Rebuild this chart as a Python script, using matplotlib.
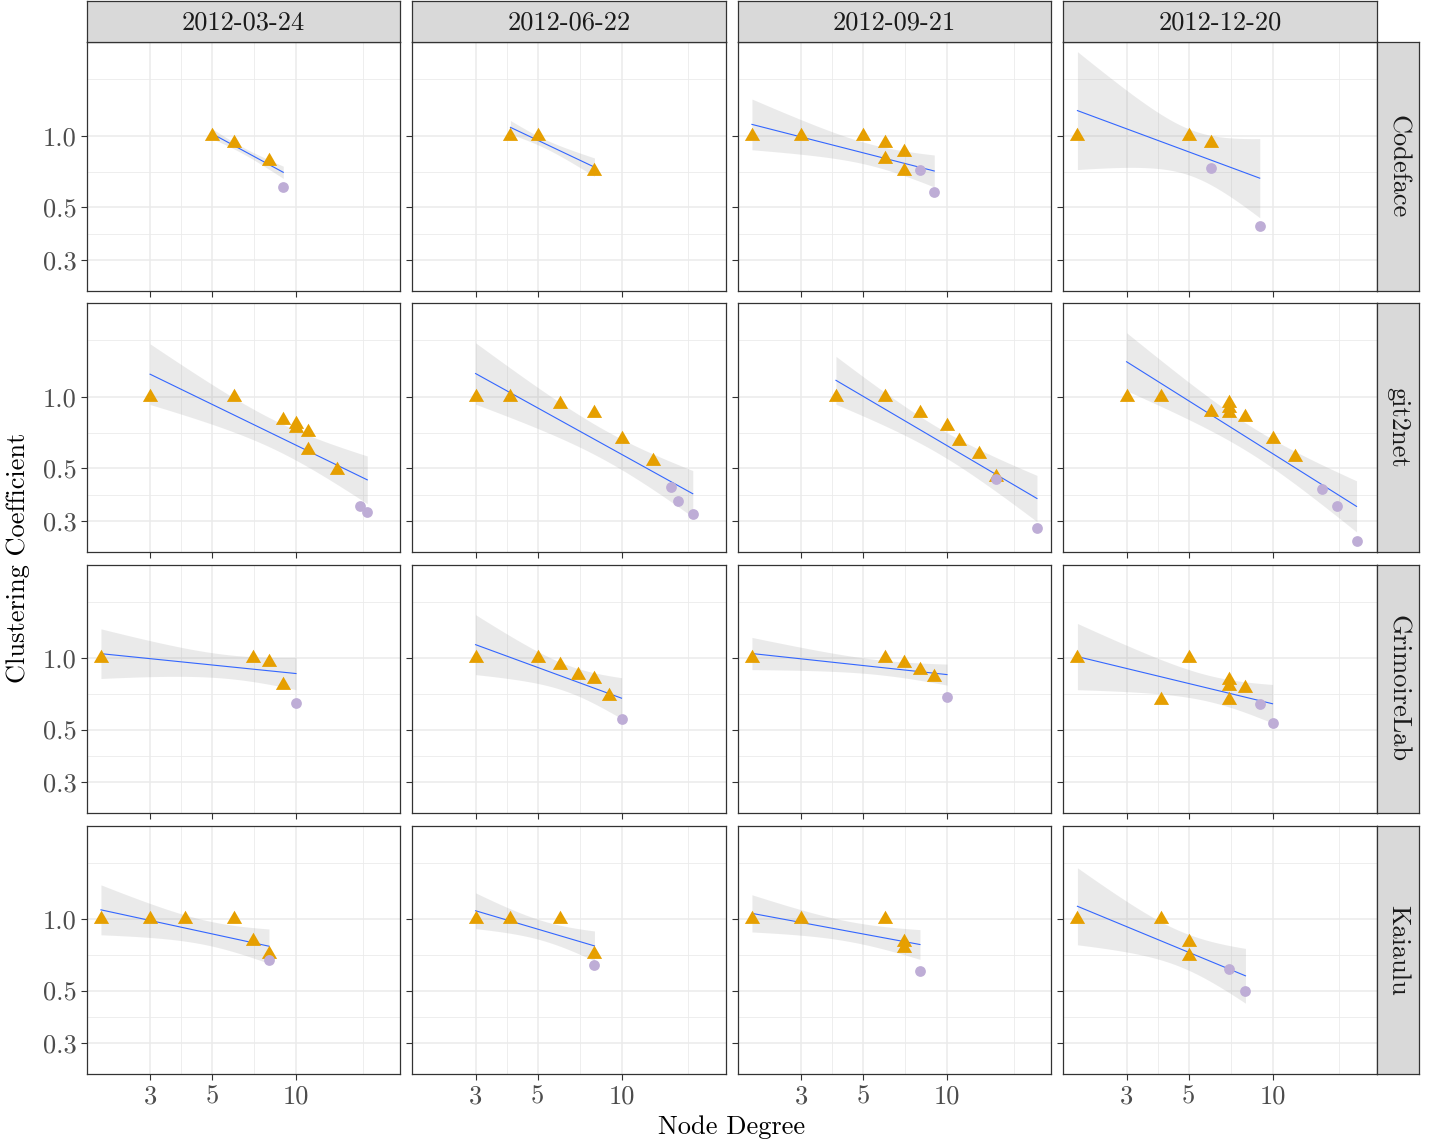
import numpy as np
import matplotlib.pyplot as plt

plt.rcParams['font.family'] = 'cmr10'
plt.rcParams['axes.formatter.use_mathtext'] = True

dates = ["2012-03-24", "2012-06-22", "2012-09-21", "2012-12-20"]
projects = ["Codeface", "git2net", "GrimoireLab", "Kaiaulu"]

# one inner list per date; kind: t = triangle, c = circle; n = nodes sharing the value
codeface_deg = [[5, 6, 8, 9],
                [4, 5, 8],
                [2, 3, 5, 6, 7, 6, 7, 8, 9],
                [2, 5, 6, 6, 9]]
codeface_cc = [[1.0, 0.93, 0.785, 0.61],
               [1.0, 1.0, 0.71],
               [1.0, 1.0, 1.0, 0.93, 0.857, 0.80, 0.71, 0.715, 0.58],
               [1.0, 1.0, 0.93, 0.734, 0.419]]
codeface_kind = ["tttc", "ttt", "tttttttcc", "tttcc"]
codeface_n = [[4, 4, 4, 1],
              [2, 6, 2],
              [1, 1, 1, 1, 1, 1, 1, 1, 1],
              [1, 3, 2, 1, 1]]

git2net_deg = [[3, 6, 9, 10, 10, 11, 11, 14, 17, 18],
               [3, 4, 6, 8, 10, 13, 15, 16, 18],
               [4, 6, 8, 10, 11, 13, 15, 15, 21],
               [3, 4, 6, 7, 7, 7, 8, 10, 12, 15, 17, 20]]
git2net_cc = [[1.0, 1.0, 0.80, 0.77, 0.74, 0.71, 0.60, 0.49, 0.347, 0.327],
              [1.0, 1.0, 0.934, 0.853, 0.665, 0.539, 0.418, 0.365, 0.321],
              [1.0, 1.0, 0.853, 0.755, 0.652, 0.575, 0.461, 0.45, 0.281],
              [1.0, 1.0, 0.862, 0.94, 0.895, 0.853, 0.82, 0.663, 0.56, 0.409, 0.346, 0.248]]
git2net_kind = ["ttttttttcc", "ttttttccc", "tttttttcc", "tttttttttccc"]
git2net_n = [[2, 2, 1, 1, 1, 1, 1, 1, 1, 1],
             [1] * 9,
             [2, 1, 1, 1, 1, 1, 1, 1, 1],
             [1] * 12]

grimoire_deg = [[2, 7, 8, 9, 10],
                [3, 5, 6, 7, 8, 9, 10],
                [2, 6, 7, 8, 9, 10],
                [2, 4, 5, 7, 7, 7, 8, 9, 10]]
grimoire_cc = [[1.0, 1.0, 0.965, 0.774, 0.646],
               [1.0, 1.0, 0.934, 0.853, 0.818, 0.69, 0.556],
               [1.0, 1.0, 0.95, 0.89, 0.83, 0.687],
               [1.0, 0.665, 1.0, 0.805, 0.76, 0.664, 0.75, 0.64, 0.533]]
grimoire_kind = ["ttttc", "ttttttc", "tttttc", "tttttttcc"]
grimoire_n = [[2, 3, 2, 1, 1],
              [1] * 7,
              [2, 2, 2, 2, 1, 1],
              [1] * 9]

kaiaulu_deg = [[2, 3, 4, 6, 7, 8, 8],
               [3, 4, 6, 8, 8],
               [2, 3, 6, 7, 7, 8],
               [2, 4, 5, 5, 7, 8]]
kaiaulu_cc = [[1.0, 1.0, 1.0, 1.0, 0.807, 0.712, 0.676],
              [1.0, 1.0, 1.0, 0.712, 0.641],
              [1.0, 1.0, 1.0, 0.805, 0.76, 0.607],
              [1.0, 1.0, 0.80, 0.698, 0.617, 0.499]]
kaiaulu_kind = ["ttttttc", "ttttc", "tttttc", "ttttcc"]
kaiaulu_n = [[1] * 7,
             [2, 2, 3, 2, 1],
             [2, 2, 2, 2, 1, 1],
             [1] * 6]

all_deg = [codeface_deg, git2net_deg, grimoire_deg, kaiaulu_deg]
all_cc = [codeface_cc, git2net_cc, grimoire_cc, kaiaulu_cc]
all_kind = [codeface_kind, git2net_kind, grimoire_kind, kaiaulu_kind]
all_n = [codeface_n, git2net_n, grimoire_n, kaiaulu_n]

T_TABLE = {1: 12.706, 2: 4.303, 3: 3.182, 4: 2.776, 5: 2.571, 6: 2.447, 7: 2.365,
           8: 2.306, 9: 2.262, 10: 2.228, 11: 2.201, 12: 2.179, 13: 2.160, 14: 2.145,
           15: 2.131, 16: 2.120, 17: 2.110, 18: 2.101, 19: 2.093, 20: 2.086,
           25: 2.060, 30: 2.042, 40: 2.021, 60: 2.000, 120: 1.980}


def t975(df):
    df = int(round(df))
    if df in T_TABLE:
        return T_TABLE[df]
    keys = sorted(T_TABLE)
    if df > keys[-1]:
        return 1.96
    lo = max(k for k in keys if k < df)
    hi = min(k for k in keys if k > df)
    w = (1 / df - 1 / lo) / (1 / hi - 1 / lo)
    return T_TABLE[lo] + w * (T_TABLE[hi] - T_TABLE[lo])


W, H = 1437, 1142
fig = plt.figure(figsize=(W / 100, H / 100), dpi=100)

col_x0 = 86.7
col_w = 313.5
col_step = 325.5
row_y0 = 42.3
row_h = 248.7
row_step = 261.1

tri = [(0, 1), (-0.866, -0.5), (0.866, -0.5), (0, 1)]

xlim = (10 ** 0.2500, 10 ** 1.3733)
ylim = (10 ** -0.654, 10 ** 0.395)
FS = 19


def add_px_axes(x0, y0, x1, y1):
    return fig.add_axes([x0 / W, 1 - y1 / H, (x1 - x0) / W, (y1 - y0) / H])


def draw_panel(ax, deg, cc, kind, n):
    deg = np.asarray(deg, float)
    cc = np.asarray(cc, float)
    n = np.asarray(n, float)
    lx, ly = np.log10(deg), np.log10(cc)
    N = n.sum()
    mx = (n * lx).sum() / N
    my = (n * ly).sum() / N
    sxx = (n * (lx - mx) ** 2).sum()
    b = (n * (lx - mx) * (ly - my)).sum() / sxx
    a = my - b * mx
    s = np.sqrt((n * (ly - a - b * lx) ** 2).sum() / (N - 2))
    gx = np.linspace(lx.min(), lx.max(), 80)
    fit = a + b * gx
    se = s * np.sqrt(1 / N + (gx - mx) ** 2 / sxx) * t975(N - 2)
    ax.fill_between(10 ** gx, 10 ** (fit - se), 10 ** (fit + se),
                    color='#999999', alpha=0.2, lw=0, zorder=2)
    ax.plot(10 ** gx, 10 ** fit, color='#3366FF', lw=0.8, zorder=3)
    k = np.array(list(kind))
    ax.scatter(deg[k == 't'], cc[k == 't'], marker=tri, s=160,
               color='#E69F00', lw=0, zorder=4)
    ax.scatter(deg[k == 'c'], cc[k == 'c'], marker='o', s=60,
               color='#BEADD6', lw=0, zorder=5)


for r in range(4):
    for c in range(4):
        x0 = col_x0 + c * col_step
        y0 = row_y0 + r * row_step
        ax = add_px_axes(x0, y0, x0 + col_w, y0 + row_h)
        ax.set_xscale('log')
        ax.set_yscale('log')
        draw_panel(ax, all_deg[r][c], all_cc[r][c], all_kind[r][c], all_n[r][c])
        ax.set_xticks([3, 5, 10], ['3', '5', '10'])
        ax.set_xticks([np.sqrt(15), np.sqrt(50), np.sqrt(300)], minor=True)
        ax.set_yticks([0.3, 0.5, 1.0], ['0.3', '0.5', '1.0'])
        ax.set_yticks([np.sqrt(0.15), np.sqrt(0.5), np.sqrt(3)], minor=True)
        ax.set_xlim(xlim)
        ax.set_ylim(ylim)
        ax.xaxis.set_minor_formatter(plt.NullFormatter())
        ax.yaxis.set_minor_formatter(plt.NullFormatter())
        ax.grid(which='major', color='#EBEBEB', lw=1.1, zorder=0)
        ax.grid(which='minor', color='#EBEBEB', lw=0.6, zorder=0)
        ax.set_axisbelow(True)
        ax.tick_params(which='minor', length=0)
        ax.tick_params(which='major', length=4.5, width=0.8, color='#333333',
                       labelsize=FS, labelcolor='#4D4D4D', pad=3)
        ax.tick_params(axis='x', labelbottom=(r == 3))
        ax.tick_params(axis='y', labelleft=(c == 0))
        for sp in ax.spines.values():
            sp.set_color('#333333')
            sp.set_linewidth(0.9)

        if r == 0:
            st = add_px_axes(x0, 0.5, x0 + col_w, row_y0)
            st.set_facecolor('#D9D9D9')
            st.set_xticks([])
            st.set_yticks([])
            for sp in st.spines.values():
                sp.set_color('#333333')
                sp.set_linewidth(0.9)
            st.text(0.5, 0.47, dates[c], transform=st.transAxes, ha='center',
                    va='center', fontsize=FS, color='#1A1A1A')
        if c == 3:
            sx0 = x0 + col_w
            st = add_px_axes(sx0, y0, sx0 + 42, y0 + row_h)
            st.set_facecolor('#D9D9D9')
            st.set_xticks([])
            st.set_yticks([])
            for sp in st.spines.values():
                sp.set_color('#333333')
                sp.set_linewidth(0.9)
            st.text(0.5, 0.5, projects[r], transform=st.transAxes, ha='center',
                    va='center', fontsize=FS, color='#1A1A1A', rotation=-90)

fig.text(732 / W, 1 - 1127 / H, 'Node Degree', ha='center', va='center', fontsize=FS)
fig.text(18 / W, 1 - 558 / H, 'Clustering Coefficient', ha='center', va='center',
         fontsize=FS, rotation=90)

fig.savefig('out.png', dpi=100, facecolor='white')
